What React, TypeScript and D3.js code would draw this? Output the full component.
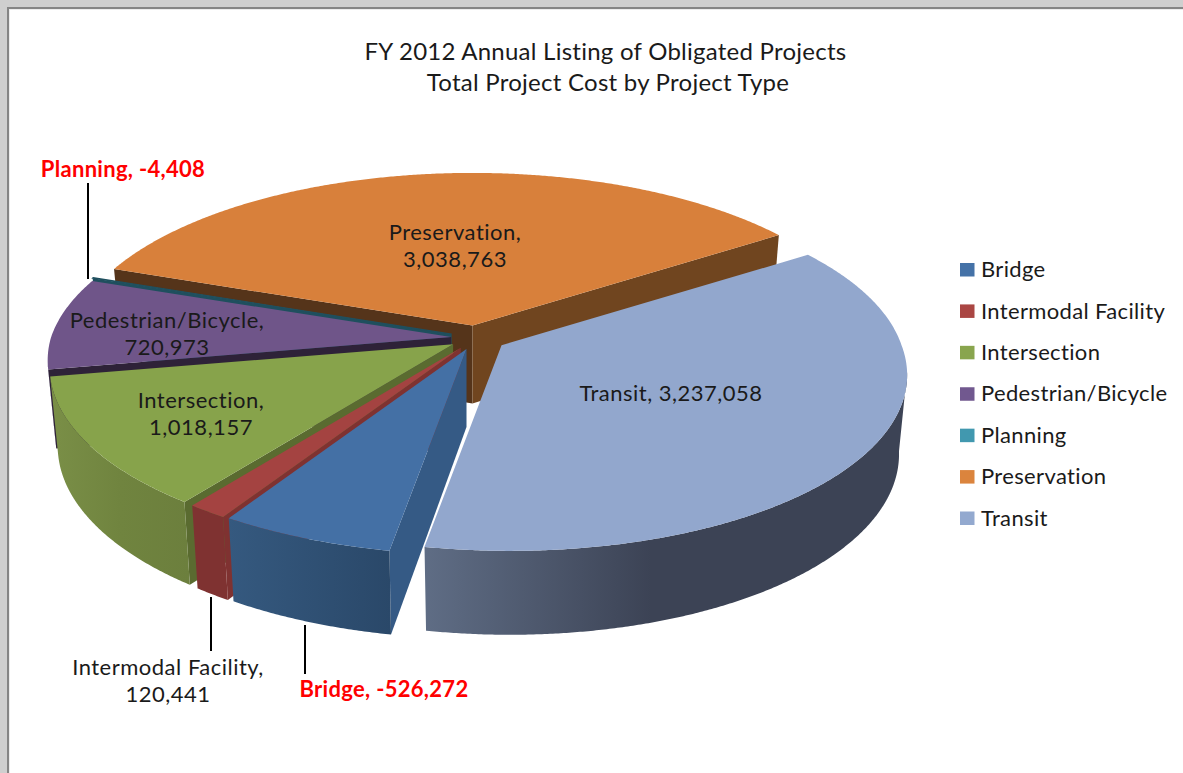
import React from "react";
import * as d3 from "d3";

const categories = ["Bridge", "Intermodal Facility", "Intersection", "Pedestrian/Bicycle", "Planning", "Preservation", "Transit"];
const values = [-526272, 120441, 1018157, 720973, -4408, 3038763, 3237058];
const titleLines = ["FY 2012 Annual Listing of Obligated Projects", "Total Project Cost by Project Type"];

const topColors = ["#4470a5", "#a44341", "#87a34b", "#6f5589", "#3f94ab", "#d8803b", "#92a7cd"];
const legendColors = ["#4572a7", "#aa4643", "#89a54e", "#71588f", "#4198af", "#db843d", "#93a9cf"];
const startWallColors = ["#355a85", "#7f3231", "#5a6b30", "#2e2238", "#1f4f5e", "#55341a", "#3c4355"];
const endWallColors = ["#355a85", "#7f3231", "#5a6b30", "#2e2238", "#1f4f5e", "#70451f", "#3c4355"];
const outerStops = [
	[["0", "#35597f"], ["1", "#2a4869"]],
	[["0", "#7f3231"], ["1", "#7f3231"]],
	[["0", "#7a8f47"], ["0.5", "#70843f"], ["1", "#6c7f3d"]],
	[["0", "#4a3a5e"], ["1", "#4a3a5e"]],
	[["0", "#2a6373"], ["1", "#2a6373"]],
	[["0", "#70451f"], ["1", "#70451f"]],
	[["0", "#5f6d85"], ["0.47", "#3c4355"], ["1", "#3c4355"]],
];
// back to front
const paintOrder = [5, 4, 3, 2, 1, 0, 6];
const explodeBy = [27, 27, 27, 25, 26, 29, 30];

const width = 1183;
const height = 773;
const cx = 476;
const cy = 338;
const radius = 400;
const perspective = 0.148;
const tilt = 0.438;
const depth = 78;
const depthFront = 10;
const shrink = 0.02;
const skewFront = 0.018;
const startDeg = 190.5;

const font = "Lato, 'Open Sans', sans-serif";
const fmt = d3.formatLocale({ decimal: ".", thousands: ",", grouping: [3], currency: ["$", ""], minus: "-" }).format(",");

function project(x: number, y: number, z: number) {
	const s = 1 / (1 - (perspective * y) / radius);
	const f = 1 - shrink * z;
	// the camera sits a little right of the pie, so the near half leans right
	return [(x + skewFront * Math.max(y, 0)) * s * f, tilt * y * s * f + z * (depth + (depthFront * y) / radius)];
}

const pie = d3
	.pie<number>()
	.value(d => Math.abs(d))
	.sort(null)
	.startAngle((startDeg * Math.PI) / 180)
	.endAngle((startDeg * Math.PI) / 180 + 2 * Math.PI);

const arcs = pie(values);
const line = d3.line();

function sliceShapes(i: number) {
	const { startAngle: a0, endAngle: a1 } = arcs[i];
	const mid = (a0 + a1) / 2;
	const e = project(explodeBy[i] * Math.sin(mid), -explodeBy[i] * Math.cos(mid), 0);
	const ax = cx + e[0];
	const ay = cy + e[1];
	const at = (x: number, y: number, z: number) => {
		const p = project(x, y, z);
		return [ax + p[0], ay + p[1]] as [number, number];
	};
	const rim = (a: number, z: number) => at(radius * Math.sin(a), -radius * Math.cos(a), z);
	const angles = d3.range(a0, a1, 0.006).concat(a1);
	const front = angles.filter(a => Math.cos(a) < -perspective);

	return {
		top: line([at(0, 0, 0), ...angles.map(a => rim(a, 0))]) + "Z",
		startWall: Math.sin(a0) < 0 ? line([at(0, 0, 0), rim(a0, 0), rim(a0, 1), at(0, 0, 1)]) + "Z" : null,
		endWall: Math.sin(a1) > 0 ? line([at(0, 0, 0), rim(a1, 0), rim(a1, 1), at(0, 0, 1)]) + "Z" : null,
		outer: front.length > 1 ? line([...front.map(a => rim(a, 0)), ...front.slice().reverse().map(a => rim(a, 1))]) + "Z" : null,
	};
}

const dataLabels = [
	{ lines: ["Bridge, " + fmt(values[0])], x: 384, y: 689, alert: true },
	{ lines: ["Intermodal Facility,", fmt(values[1])], x: 168, y: 667 },
	{ lines: ["Intersection,", fmt(values[2])], x: 201, y: 400 },
	{ lines: ["Pedestrian/Bicycle,", fmt(values[3])], x: 167, y: 320 },
	{ lines: ["Planning, " + fmt(values[4])], x: 123, y: 169, alert: true },
	{ lines: ["Preservation,", fmt(values[5])], x: 455, y: 232 },
	{ lines: ["Transit, " + fmt(values[6])], x: 671, y: 393 },
];

const leaders = [
	{ x: 88, y1: 183, y2: 279 },
	{ x: 211, y1: 597, y2: 651 },
	{ x: 305, y1: 625, y2: 674 },
];

const legendY = d3.scalePoint<string>().domain(categories).range([269.5, 518]);

export default function App() {
	return (
		<svg width={width} height={height} style={{ position: "absolute", left: 0, top: 0, display: "block" }}>
			<defs>
				{outerStops.map((stops, i) => (
					<linearGradient key={i} id={`wall${i}`} x1="0" x2="1" y1="0" y2="0">
						{stops.map(([o, c]) => <stop key={o} offset={o} stopColor={c} />)}
					</linearGradient>
				))}
			</defs>

			<rect width={width} height={height} fill="#cfcfcf" />
			<rect x={7} y={7} width={width - 7} height={height - 7} fill="#858585" />
			<rect x={9} y={9} width={width - 9} height={height - 9} fill="#ececec" />
			<rect x={10} y={10} width={width - 10} height={height - 10} fill="#fff" />

			{titleLines.map((t, i) => (
				<text key={t} x={i === 0 ? 605.5 : 608} y={52 + i * 30.5} dy="0.35em" textAnchor="middle" fontFamily={font} fontSize={24} letterSpacing={0.25} fill="#1a1a1a">{t}</text>
			))}

			{paintOrder.map(i => {
				const s = sliceShapes(i);
				return (
					<g key={i}>
						{s.startWall && <path d={s.startWall} fill={startWallColors[i]} />}
						{s.endWall && <path d={s.endWall} fill={endWallColors[i]} />}
						{s.outer && <path d={s.outer} fill={`url(#wall${i})`} />}
						<path d={s.top} fill={topColors[i]} stroke={i === 4 ? startWallColors[i] : "none"} strokeWidth={i === 4 ? 1.2 : 0} />
					</g>
				);
			})}

			{leaders.map(l => (
				<line key={l.x} x1={l.x} x2={l.x} y1={l.y1} y2={l.y2} stroke="#000" strokeWidth={2} />
			))}

			{dataLabels.map(d => (
				<g key={d.lines[0]}>
					{d.lines.map((t, i) => (
						<text key={t} x={d.x} y={d.y + i * 27} dy="0.35em" textAnchor="middle" fontFamily={font}
							fontSize={22} letterSpacing={d.alert ? 0.3 : 0.5} fontWeight={d.alert ? 700 : 400} fill={d.alert ? "#ff0000" : "#1a1a1a"}>{t}</text>
					))}
				</g>
			))}

			{categories.map((c, i) => (
				<g key={c}>
					<rect x={960} y={legendY(c)! - 6.5} width={14.5} height={13.5} fill={legendColors[i]} />
					<text x={981} y={legendY(c)!} dy="0.35em" fontFamily={font} fontSize={22} letterSpacing={0.35} fill="#1a1a1a">{c}</text>
				</g>
			))}
		</svg>
	);
}
